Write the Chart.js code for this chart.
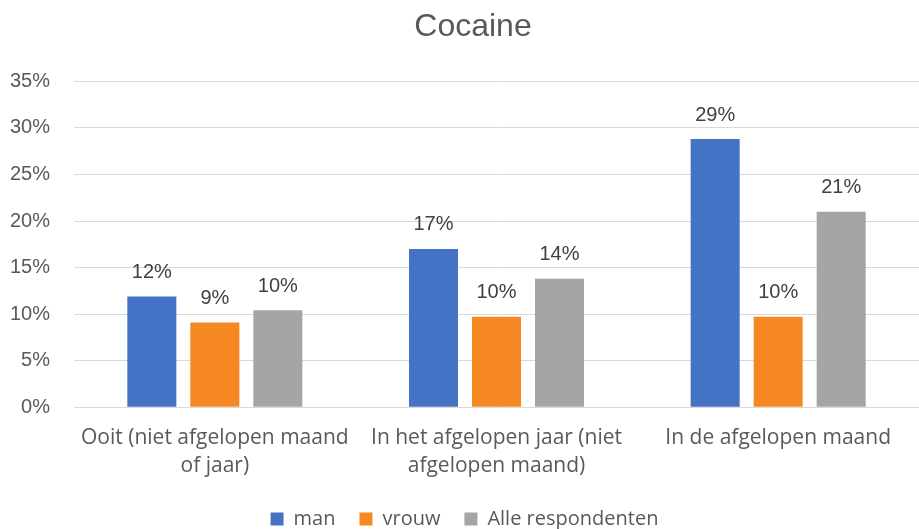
<!DOCTYPE html>
<html>
<head>
<meta charset="utf-8">
<script src="https://cdn.jsdelivr.net/npm/chart.js@4"></script>
<style>
  html, body { margin: 0; padding: 0; background: #fff; }
  #wrap { width: 919px; height: 529px; }
</style>
</head>
<body>
<div id="wrap"><canvas id="chart" width="919" height="529"></canvas></div>
<script>
const categories = [
    ['Ooit (niet afgelopen maand', 'of jaar)'],
    ['In het afgelopen jaar (niet', 'afgelopen maand)'],
    'In de afgelopen maand'
];
const manValues = [11.9, 17.0, 28.8];
const vrouwValues = [9.1, 9.7, 9.7];
const alleValues = [10.4, 13.8, 21.0];

const textColor = '#595959';
const fontFamily = "'Liberation Sans', 'DejaVu Sans', sans-serif";
const labelFamily = "'Open Sans', 'Liberation Sans', sans-serif";

// draws the value above each bar, rounded to whole percent
const valueLabels = {
    id: 'valueLabels',
    afterLayout(chart) {
        // title sits a little right of the canvas centre
        chart.titleBlock.left += 17;
    },
    afterDatasetsDraw(chart) {
        const ctx = chart.ctx;
        ctx.save();
        ctx.font = '20px ' + fontFamily;
        ctx.fillStyle = '#404040';
        ctx.textAlign = 'center';
        ctx.textBaseline = 'bottom';
        chart.data.datasets.forEach((ds, i) => {
            chart.getDatasetMeta(i).data.forEach((bar, j) => {
                ctx.fillText(Math.round(ds.data[j]) + '%', bar.x, bar.y - 14);
            });
        });
        ctx.restore();
    }
};

const ctx = document.getElementById('chart').getContext('2d');
const chart = new Chart(ctx, {
    type: 'bar',
    data: {
        labels: categories,
        datasets: [
            { label: 'man', data: manValues, backgroundColor: '#4472c4' },
            { label: 'vrouw', data: vrouwValues, backgroundColor: '#f58823' },
            { label: 'Alle respondenten', data: alleValues, backgroundColor: '#a5a5a5' }
        ]
    },
    options: {
        responsive: false,
        animation: false,
        layout: { autoPadding: false, padding: { left: 10, right: 0, top: 0, bottom: -10 } },
        datasets: {
            bar: { categoryPercentage: 0.671, barPercentage: 0.778 }
        },
        plugins: {
            title: {
                display: true,
                text: 'Cocaine',
                color: textColor,
                font: { family: fontFamily, size: 32, weight: 'normal' },
                padding: { top: 8, bottom: 35 }
            },
            legend: {
                position: 'bottom',
                labels: {
                    color: textColor,
                    font: { family: labelFamily, size: 20 },
                    boxWidth: 13,
                    boxHeight: 13,
                    padding: 24
                }
            },
            tooltip: { enabled: false }
        },
        scales: {
            x: {
                grid: { display: false },
                border: { display: false },
                ticks: {
                    color: textColor,
                    font: { family: labelFamily, size: 21, lineHeight: 1.33 },
                    maxRotation: 0,
                    padding: 9
                },
                afterFit: scale => { scale.height -= 4; }
            },
            y: {
                min: 0,
                max: 35,
                grid: { color: '#d9d9d9', drawTicks: false },
                border: { display: false },
                ticks: {
                    stepSize: 5,
                    color: textColor,
                    font: { family: fontFamily, size: 20 },
                    padding: 24,
                    callback: v => v + '%'
                },
                afterFit: scale => { scale.width = 64; }
            }
        }
    },
    plugins: [valueLabels]
});
</script>
</body>
</html>
